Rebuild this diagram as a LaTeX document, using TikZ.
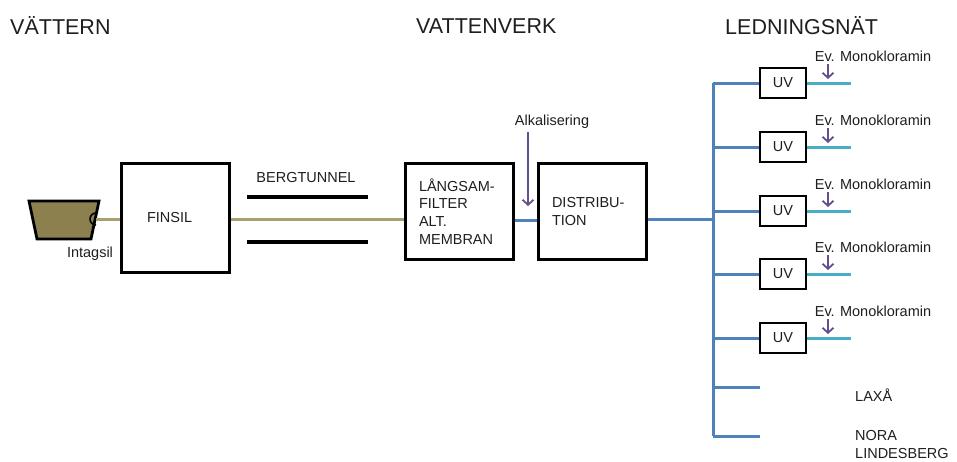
\documentclass[tikz,border=0pt]{standalone}
\usepackage{fontspec}
\setmainfont{Liberation Sans}
\usepackage{tikz}
\usetikzlibrary{arrows,arrows.meta}

\definecolor{rawwater}{RGB}{168,160,112}
\definecolor{intakefill}{RGB}{140,128,78}
\definecolor{mainblue}{RGB}{79,129,189}
\definecolor{localteal}{RGB}{75,172,198}
\definecolor{dosing}{RGB}{100,78,140}
\definecolor{ink}{RGB}{30,30,30}

\tikzset{
  head/.style={anchor=west,inner sep=0pt,text=ink,font=\fontsize{21.5}{25}\selectfont},
  lbl/.style={text=ink,font=\fontsize{14.5}{17.7}\selectfont},
  box/.style={draw,line width=3pt,align=left,inner xsep=14pt,text width=80pt,
    minimum height=96pt,text=ink,font=\fontsize{14.5}{17.7}\selectfont},
  uvbox/.style={draw,line width=2.8pt,minimum width=46pt,minimum height=30pt,
    inner sep=0pt,text=ink,font=\fontsize{14.5}{17.7}\selectfont},
  rawpipe/.style={color=rawwater,line width=3pt},
  mainpipe/.style={color=mainblue,line width=3pt},
  localpipe/.style={color=localteal,line width=3pt},
  tunnel/.style={line width=3.4pt},
  dosearrow/.style={color=dosing,line width=1.8pt,-{Straight Barb[length=5pt,width=11pt]}}
}

\begin{document}
\begin{tikzpicture}[x=1pt,y=-1pt]
 \useasboundingbox (0,0) rectangle (957,461);

 \draw (10,26) node[head] (vattern) {VÄTTERN};
 \draw (416,26) node[head] (verk) {VATTENVERK};
 \draw (725,26) node[head] (natet) {LEDNINGSNÄT};

 % intag
 \draw[fill=intakefill,line width=2.8pt] (29,201) -- (99,201) -- (91,239) -- (37,239) -- cycle;
 \draw[line width=1.6pt] (96,213) arc[start angle=90,end angle=270,radius=6pt];
 \coordinate (intag) at (96,219);
 \draw (90,254) node[lbl] (intagsil) {Intagsil};

 \draw (175,217.5) node[box,text width=56pt,inner xsep=26pt,minimum height=109pt] (finsil) {FINSIL};
 \draw (459,211.5) node[box] (filter) {LÅNGSAM-\\FILTER\\ALT.\\MEMBRAN};
 \draw (592,211.5) node[box] (distr) {DISTRIBU-\\TION};

 \draw (306,178) node[lbl] (berg) {BERGTUNNEL};
 \draw[tunnel] (247,197) -- (368,197);
 \draw[tunnel] (247,242) -- (368,242);

 \path[rawpipe] (intag) edge (finsil.west |- intag);
 \path[rawpipe] (finsil.east |- intag) edge (filter.west |- intag);

 \coordinate (pipe) at (0,220);
 \path[mainpipe] (filter.east |- pipe) edge (distr.west |- pipe);

 \draw (552,122) node[lbl] (alk) {Alkalisering};
 \coordinate (alkin) at (528,206);
 \draw[dosearrow] (alk.south -| alkin) -- (alkin);

 % ledningsnät
 \coordinate (trunktop) at (713,83);
 \coordinate (trunkbot) at (713,436);
 \draw[mainpipe] (trunktop) -- (trunkbot);
 \path[mainpipe] (distr.east |- 0,219) edge (trunktop |- 0,219);

 \foreach \y [count=\i] in {83,147,211,274,338}{
   \draw (783,\y) node[uvbox] (uv\i) {UV};
   \path[mainpipe] (trunktop |- uv\i) edge (uv\i.west);
   \coordinate (ut\i) at (851,\y);
   \path[localpipe] (uv\i.east) edge (ut\i);
   \draw (873,\y-27) node[lbl] (mono\i) {Ev. Monokloramin};
   \coordinate (dos\i) at (828,\y-4);
   \draw[dosearrow] (828,\y-19) -- (dos\i);
 }

 \coordinate (laxa) at (760,387);
 \coordinate (nora) at (760,436);
 \path[mainpipe] (trunktop |- laxa) edge (laxa);
 \path[mainpipe] (trunkbot) edge (nora);
 \draw (855,395) node[lbl,anchor=west,inner sep=0pt] (laxalbl) {LAXÅ};
 \draw (855,444.5) node[lbl,anchor=west,inner sep=0pt,align=left] (noralbl) {NORA\\LINDESBERG};

\end{tikzpicture}
\end{document}
